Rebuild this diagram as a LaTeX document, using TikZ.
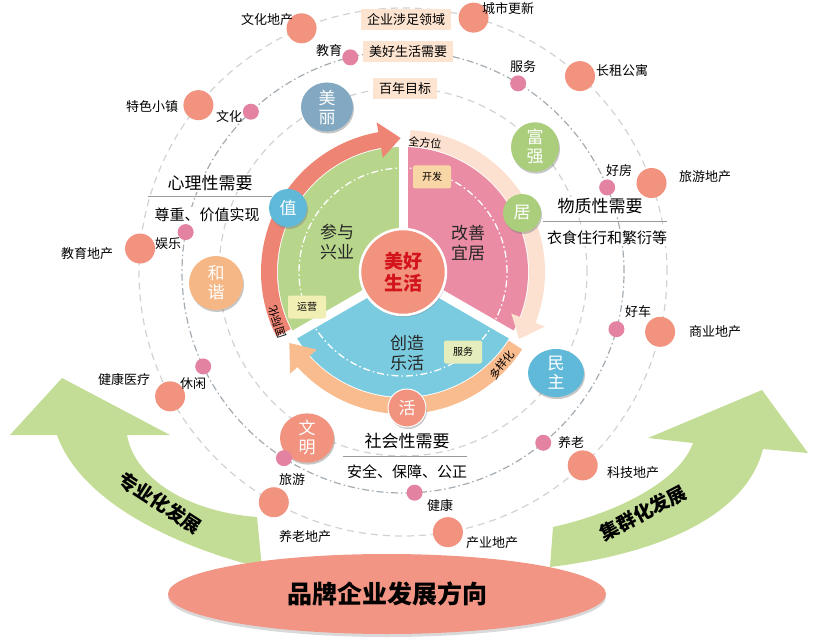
\documentclass[tikz,border=0pt]{standalone}
\usepackage{fontspec}
\setmainfont{Noto Sans CJK SC}
\usetikzlibrary{calc,shadows,shapes.geometric}
\definecolor{sGreen}{HTML}{B7D68C}
\definecolor{sPink}{HTML}{E98CA4}
\definecolor{sBlue}{HTML}{7ACBDF}
\definecolor{bandRed}{HTML}{EE8574}
\definecolor{bandPeach}{HTML}{FCE1D0}
\definecolor{bandOrange}{HTML}{F8BC8F}
\definecolor{salmon}{HTML}{F2937F}
\definecolor{dotPink}{HTML}{E383A1}
\definecolor{boxPeach}{HTML}{FCE4D1}
\definecolor{arrowGreen}{HTML}{C4DD96}
\definecolor{ellSalmon}{HTML}{F29585}
\definecolor{ringLight}{HTML}{D2D2D2}
\definecolor{ringDark}{HTML}{A4ACB2}
\definecolor{bMei}{HTML}{82A9C1}
\definecolor{bGreen}{HTML}{ABCE7C}
\definecolor{bBlue}{HTML}{60B9D9}
\definecolor{bOrange}{HTML}{F5B786}
\definecolor{centerRed}{HTML}{D3141C}
\definecolor{boxKai}{HTML}{F9D6A6}
\definecolor{boxYun}{HTML}{F2EFB5}
\definecolor{boxFu}{HTML}{E4EDBB}
\newcommand\bandarrow[4]{%
  \fill[#1] ($(C)+(#2:126)$) arc[start angle=#2, end angle=#3, radius=126]
    -- ($(C)+(#3:116)$) -- ($(C)+(#4:134)$) -- ($(C)+(#3:152)$)
    -- ($(C)+(#3:142)$) arc[start angle=#3, end angle=#2, radius=142] -- cycle;}
\begin{document}
\begin{tikzpicture}[x=1pt,y=1pt,
  bigdot/.style={circle, fill=salmon, minimum size=30pt, inner sep=0pt},
  smalldot/.style={circle, fill=dotPink, minimum size=16pt, inner sep=0pt},
  lbl/.style={font=\fontsize{13}{15}\selectfont, inner sep=0pt},
  topbox/.style={fill=boxPeach, font=\fontsize{13}{15}\selectfont, minimum height=21pt, inner xsep=6pt, inner ysep=0pt},
  badge/.style={ellipse, inner sep=0pt, text=white, align=center, font=\fontsize{17}{19}\selectfont,
     drop shadow={shadow xshift=1pt, shadow yshift=-2pt, opacity=0.45}},
  need/.style={fill=white, inner sep=1pt, font=\fontsize{17}{19}\selectfont},
  needsub/.style={fill=white, inner sep=1pt, font=\fontsize{15}{17}\selectfont},
  sector/.style={align=center, font=\fontsize{17}{20}\selectfont, text=black!85},
  smallbox/.style={font=\fontsize{10}{12}\selectfont, minimum width=38pt, minimum height=23pt, inner sep=0pt, rounded corners=2pt},
  bandtext/.style={font=\fontsize{11}{12}\selectfont, inner sep=0pt},
  ringB/.style={ringLight, line width=1.2pt, dash pattern=on 7pt off 5pt},
  ringC/.style={ringDark, line width=1.2pt, dash pattern=on 7pt off 3pt on 1.5pt off 3pt},
]
\useasboundingbox (0,0) rectangle (821,641);
\coordinate (C) at (403,369);
% rings
\draw[ringB] (C) circle[radius=184];
\draw[ringC] (C) circle[radius=221];
\draw[ringB] (C) circle[radius=264];
% green development arrows
\fill[arrowGreen] (10,206) -- (62,263) -- (170,206) -- (127,206)
  .. controls (135,161) and (190,129) .. (257,124) -- (262,73)
  .. controls (170,96) and (80,141) .. (57,206) -- cycle;
\fill[arrowGreen] (648,203) -- (762,251) -- (808,188) -- (763,192)
  .. controls (745,121) and (650,86) .. (550,74) -- (553,114)
  .. controls (620,129) and (680,161) .. (693,198) -- cycle;
\node[rotate=-33, font=\bfseries\fontsize{19}{21}\selectfont] (zy) at (160,138) {专业化发展};
\node[rotate=28, font=\bfseries\fontsize{19}{21}\selectfont] (jq) at (643,128) {集群化发展};
% bottom ellipse
\node[ellipse, fill=ellSalmon, minimum width=438pt, minimum height=80pt, inner sep=0pt,
  drop shadow={shadow xshift=0pt, shadow yshift=-3pt, opacity=0.3},
  font=\bfseries\fontsize{25}{28}\selectfont] (brand) at (387,47) {品牌企业发展方向};
% pie sectors
\fill[sGreen] (C) -- ($(C)+(90:125)$) arc[start angle=90, end angle=210, radius=125] -- cycle;
\fill[sPink] (C) -- ($(C)+(-30:125)$) arc[start angle=-30, end angle=90, radius=125] -- cycle;
\fill[sBlue] (C) -- ($(C)+(210:125)$) arc[start angle=210, end angle=330, radius=125] -- cycle;
\foreach \a in {90,210,330} \draw[white, line width=9pt] (C) -- ++(\a:127);
\draw[white, line width=1.3pt, dash pattern=on 7pt off 3pt on 1.5pt off 3pt] (C) circle[radius=104];
% bands with arrow heads
\bandarrow{bandRed}{207}{100}{91}
\bandarrow{bandPeach}{87}{-21}{-30}
\bandarrow{bandOrange}{327}{222}{212}
\node[bandtext, rotate=-5] (qfw) at (425,498) {全方位};
\node[bandtext, rotate=52] (dyh) at (502,276) {多样化};
\node[bandtext, rotate=108] (gjh) at (277,319) {国际化};
% sector texts and boxes
\node[sector] (cy) at (337,399) {参与\\兴业};
\node[sector] (gs) at (468,398) {改善\\宜居};
\node[sector] (cz) at (407,288) {创造\\乐活};
\node[smallbox, fill=boxKai] (kf) at (432,464) {开发};
\node[smallbox, fill=boxYun] (yy) at (307,334) {运营};
\node[smallbox, fill=boxFu] (fw) at (463,289) {服务};
% center
\node[circle, fill=salmon, draw=white, line width=2.5pt, minimum size=86pt, inner sep=0pt, align=center,
  drop shadow={shadow xshift=1pt, shadow yshift=-2pt, opacity=0.35},
  text=centerRed, font=\bfseries\fontsize{19}{22}\selectfont] (mh) at (C) {美好\\生活};
% top boxes
\node[topbox] (qy) at (406,621) {企业涉足领域};
\node[topbox] (mhx) at (408,589) {美好生活需要};
\node[topbox] (bn) at (405,552) {百年目标};
% badges
\node[badge, fill=bMei, minimum width=52pt, minimum height=46pt] (ml) at (327,534) {美\\丽};
\node[badge, fill=bGreen, minimum width=48pt, minimum height=48pt] (fq) at (535,494) {富\\强};
\node[badge, fill=bGreen, minimum width=38pt, minimum height=38pt] (ju) at (522,428) {居};
\node[badge, fill=bBlue, minimum width=38pt, minimum height=38pt] (zhi) at (288,433) {值};
\node[badge, fill=bOrange, minimum width=54pt, minimum height=54pt] (hx) at (216,358) {和\\谐};
\node[badge, fill=bBlue, minimum width=56pt, minimum height=48pt] (mz) at (556,268) {民\\主};
\node[badge, fill=salmon, minimum width=54pt, minimum height=46pt] (wm) at (307,203) {文\\明};
\node[badge, fill=salmon, draw=white, line width=1pt, minimum width=38pt, minimum height=38pt] (huo) at (407,233) {活};
% need sections
\node[need] (xl) at (210,458) {心理性需要};
\node[needsub] (zz) at (207,426) {尊重、价值实现};
\draw[black!40, line width=1pt] (148,444) -- (272,444);
\node[need] (wz) at (600,435) {物质性需要};
\node[needsub] (yz) at (607,403) {衣食住行和繁衍等};
\draw[black!40, line width=1pt] (543,420) -- (667,420);
\node[need] (sh) at (407,200) {社会性需要};
\node[needsub] (aq) at (407,169) {安全、保障、公正};
\draw[black!40, line width=1pt] (343,185) -- (467,185);
% outer ring big dots
\node[bigdot] (d1) at ($(C)+(112.6:264)$) {};
\node[bigdot] (d2) at ($(C)+(74.5:264)$) {};
\node[bigdot] (d3) at ($(C)+(47.9:264)$) {};
\node[bigdot] (d4) at ($(C)+(140.8:264)$) {};
\node[bigdot] (d5) at ($(C)+(19.7:264)$) {};
\node[bigdot] (d6) at ($(C)+(174.9:264)$) {};
\node[bigdot] (d7) at ($(C)+(-13.1:264)$) {};
\node[bigdot] (d8) at ($(C)+(208.1:264)$) {};
\node[bigdot] (d9) at ($(C)+(-47.1:264)$) {};
\node[bigdot] (d10) at ($(C)+(240.7:264)$) {};
\node[bigdot] (d11) at ($(C)+(-80.2:264)$) {};
% middle ring small dots
\node[smalldot] (s1) at ($(C)+(103.8:221)$) {};
\node[smalldot] (s2) at ($(C)+(58.6:221)$) {};
\node[smalldot] (s3) at ($(C)+(133.5:221)$) {};
\node[smalldot] (s4) at ($(C)+(169.6:221)$) {};
\node[smalldot] (s5) at ($(C)+(22.5:221)$) {};
\node[smalldot] (s6) at ($(C)+(-15:221)$) {};
\node[smalldot] (s7) at ($(C)+(205.3:221)$) {};
\node[smalldot] (s8) at ($(C)+(-50.6:221)$) {};
\node[smalldot] (s9) at ($(C)+(237.4:221)$) {};
\node[smalldot] (s10) at ($(C)+(-87:221)$) {};
% labels
\node[lbl] (l1) at (267,621) {文化地产};
\node[lbl] (l2) at (508,632) {城市更新};
\node[lbl] (l3) at (622,570) {长租公寓};
\node[lbl] (l4) at (152,534) {特色小镇};
\node[lbl] (l5) at (705,464) {旅游地产};
\node[lbl] (l6) at (87,387) {教育地产};
\node[lbl] (l7) at (715,309) {商业地产};
\node[lbl] (l8) at (124,262) {健康医疗};
\node[lbl] (l9) at (633,168) {科技地产};
\node[lbl] (l10) at (305,104) {养老地产};
\node[lbl] (l11) at (492,98) {产业地产};
\node[lbl] (m1) at (329,590) {教育};
\node[lbl] (m2) at (523,574) {服务};
\node[lbl] (m3) at (229,524) {文化};
\node[lbl] (m4) at (168,397) {娱乐};
\node[lbl] (m5) at (619,470) {好房};
\node[lbl] (m6) at (638,329) {好车};
\node[lbl] (m7) at (193,257) {休闲};
\node[lbl] (m8) at (571,198) {养老};
\node[lbl] (m9) at (292,161) {旅游};
\node[lbl] (m10) at (440,136) {健康};
\end{tikzpicture}
\end{document}
